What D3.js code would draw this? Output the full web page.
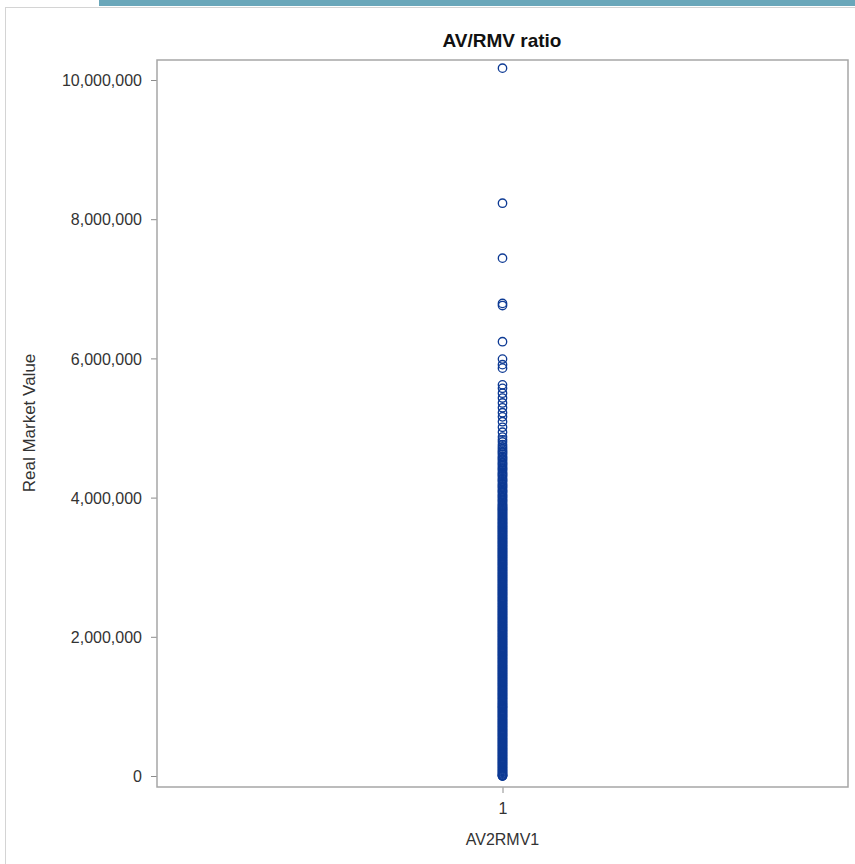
<!DOCTYPE html>
<html>
<head>
<meta charset="utf-8">
<script src="https://cdn.jsdelivr.net/npm/d3@7/dist/d3.min.js"></script>
<style>
  html, body { margin: 0; padding: 0; background: #fff; }
  svg { display: block; font-family: "Liberation Sans", Arial, sans-serif; }
</style>
</head>
<body>
<svg id="chart" width="855" height="864"></svg>
<script>
(function () {
    'use strict';

    // chart values (Real Market Value, in thousands)
    var category = ['1'];
    var yTicks = [0, 2000000, 4000000, 6000000, 8000000, 10000000];

    var outliers = [10170, 8230, 7440, 6790, 6760, 6240, 5990, 5910, 5860,
        5620, 5570, 5500, 5430, 5360, 5290, 5220, 5160, 5090, 5010, 4940,
        4870];

    var sparse = [3656, 3670, 3684, 3697, 3712, 3726, 3739, 3755, 3768, 3782,
        3796, 3811, 3824, 3838, 3853, 3866, 3880, 3894, 3909, 3930, 3946, 3961,
        3976, 3998, 4014, 4030, 4046, 4068, 4084, 4099, 4114, 4138, 4154, 4169,
        4185, 4201, 4226, 4242, 4258, 4274, 4300, 4316, 4332, 4348, 4364, 4390,
        4406, 4422, 4438, 4460, 4478, 4494, 4512, 4538, 4556, 4574, 4592, 4620,
        4640, 4660, 4682, 4705, 4730, 4760, 4800, 4830];

    var dense = [0, 2, 7, 16, 28, 40, 53, 65, 79, 91, 104, 118, 130, 143, 157,
        169, 182, 196, 209, 221, 235, 248, 260, 274, 287, 299, 313, 326, 338,
        352, 365, 377, 391, 404, 417, 430, 443, 456, 469, 482, 495, 508, 521,
        534, 547, 560, 573, 586, 599, 612, 625, 638, 651, 664, 677, 690, 703,
        716, 729, 742, 755, 768, 781, 794, 807, 820, 833, 846, 859, 872, 885,
        898, 911, 924, 937, 950, 963, 976, 989, 997,
        1010, 1022, 1036, 1047, 1061, 1074, 1086, 1101, 1113, 1125, 1140, 1152,
        1165, 1179, 1190, 1204, 1218, 1229, 1243, 1256, 1268, 1283, 1295, 1308,
        1322, 1334, 1347, 1361, 1373, 1387, 1400, 1412, 1426, 1439, 1451, 1466,
        1478, 1490, 1505, 1517, 1530, 1544, 1556, 1569, 1583, 1595, 1608, 1622,
        1634, 1647, 1661, 1673, 1687, 1699, 1712, 1726, 1738, 1751, 1765, 1777,
        1790, 1804, 1816, 1829, 1843, 1855, 1868, 1882, 1894, 1907, 1921, 1933,
        1946, 1960, 1972, 1986, 2000, 2012, 2025, 2039, 2051, 2064, 2078, 2090,
        2103, 2117, 2129, 2142, 2156, 2168, 2181, 2195, 2208, 2221, 2235, 2247,
        2260, 2274, 2286, 2299, 2313, 2325, 2338, 2352, 2364, 2377, 2391, 2404,
        2417, 2430, 2443, 2456, 2470, 2482, 2495, 2509, 2521, 2534, 2548, 2560,
        2573, 2587, 2599, 2612, 2626, 2638, 2651, 2665, 2677, 2690, 2704, 2716,
        2729, 2743, 2755, 2768, 2782, 2794, 2808, 2821, 2834, 2847, 2860, 2873,
        2886, 2899, 2912, 2925, 2938, 2952, 2964, 2977, 2991, 3004, 3017, 3030,
        3043, 3056, 3069, 3083, 3095, 3108, 3121, 3134, 3147, 3160, 3173, 3187,
        3199, 3212, 3226, 3238, 3251, 3264, 3277, 3290, 3303, 3316, 3329, 3343,
        3355, 3368, 3381, 3394, 3408, 3421, 3433, 3447, 3460, 3472, 3486, 3499,
        3512, 3525, 3538, 3551, 3565, 3577, 3590, 3604, 3617, 3630, 3643];

    var values = dense.concat(sparse, outliers).map(function (v) { return v * 1000; });

    var svg = d3.select('#chart');
    var frame = { left: 157, top: 60, right: 848, bottom: 787 };

    // header strip and page border
    svg.append('rect')
        .attr('x', 99).attr('y', 0)
        .attr('width', 756).attr('height', 6)
        .style('fill', '#6aa7ba');
    svg.append('rect')
        .attr('x', 5.5).attr('y', 7.5)
        .attr('width', 860).attr('height', 900)
        .style('fill', 'none')
        .style('stroke', '#d4d4d4');

    var x = d3.scalePoint()
        .domain(category)
        .range([frame.left, frame.right])
        .padding(0.5);

    var y = d3.scaleLinear()
        .domain([0, 10000000])
        .range([776, 80]);

    var yAxis = svg.append('g')
        .attr('transform', 'translate(' + frame.left + ',0)')
        .call(d3.axisLeft(y).tickValues(yTicks).tickFormat(d3.format(',')).tickSize(6).tickPadding(9));

    var xAxis = svg.append('g')
        .attr('transform', 'translate(0,' + frame.bottom + ')')
        .call(d3.axisBottom(x).tickSize(6).tickPadding(10));

    [yAxis, xAxis].forEach(function (g) {
        g.select('.domain').remove();
        g.selectAll('.tick line').style('stroke', '#8c8c8c');
        g.selectAll('.tick text')
            .style('font-size', '16px')
            .style('fill', '#333')
            .style('font-family', '"Liberation Sans", Arial, sans-serif');
    });
    yAxis.selectAll('.tick text').attr('dy', '0.36em');

    // plot frame
    svg.append('rect')
        .attr('x', frame.left).attr('y', frame.top)
        .attr('width', frame.right - frame.left)
        .attr('height', frame.bottom - frame.top)
        .style('fill', 'none')
        .style('stroke', '#a6a6a6')
        .style('stroke-width', 1.5);

    svg.append('g').selectAll('circle')
        .data(values)
        .enter().append('circle')
        .attr('cx', x('1'))
        .attr('cy', function (d) { return y(d); })
        .attr('r', 4.2)
        .style('fill', 'none')
        .style('stroke', '#0d3a94')
        .style('stroke-width', 1.35);

    svg.append('text')
        .attr('x', 502).attr('y', 47)
        .attr('text-anchor', 'middle')
        .style('font-size', '19px')
        .style('font-weight', 'bold')
        .style('fill', '#111')
        .text('AV/RMV ratio');

    svg.append('text')
        .attr('x', x('1')).attr('y', 845)
        .attr('text-anchor', 'middle')
        .style('font-size', '16px')
        .style('fill', '#333')
        .text('AV2RMV1');

    svg.append('text')
        .attr('transform', 'translate(35,423) rotate(-90)')
        .attr('text-anchor', 'middle')
        .style('font-size', '17px')
        .style('fill', '#333')
        .text('Real Market Value');
})();
</script>
</body>
</html>
